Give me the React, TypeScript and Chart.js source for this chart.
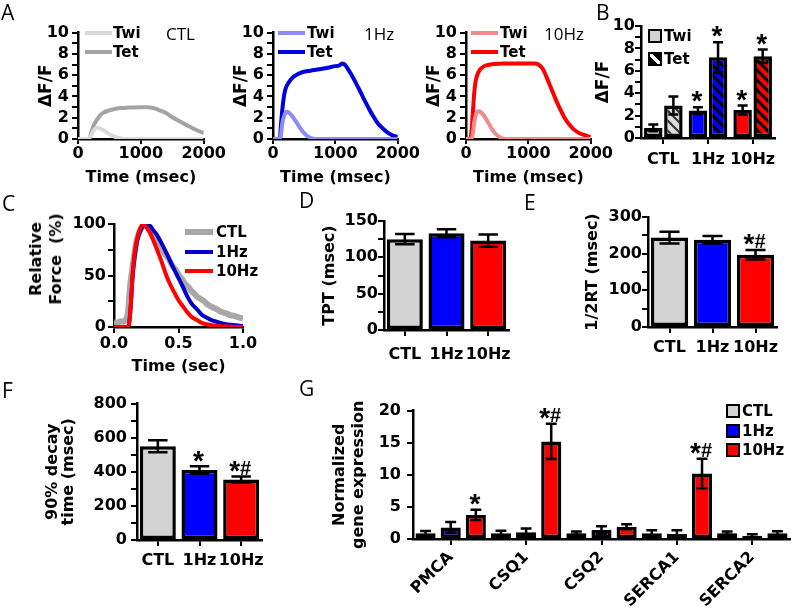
import React, { useEffect, useRef } from 'react';
import { Chart, registerables } from 'chart.js';

Chart.register(...registerables);

const FONT = "'DejaVu Sans', Verdana, sans-serif";
const MARK_FONT = "'Liberation Sans', Arial, Helvetica, sans-serif";
const LETTER_FONT = "'Open Sans', 'Liberation Sans', sans-serif";
const TICK_SIZE = 16;
const TITLE_SIZE = 16;

// ---------------- DATA ----------------
// Panel A: Ca transients, time (msec) vs ΔF/F
const aCtlTwi = [[0,0],[150,0],[200,0.25],[250,0.8],[300,1.05],[350,1.0],[400,0.85],[450,0.65],[500,0.45],[550,0.3],[600,0.17],[650,0.08],[700,0.03],[800,0],[1200,0],[2000,0]];
const aCtlTet = [[0,0],[180,0],[210,0.6],[250,1.3],[300,1.8],[350,2.2],[400,2.45],[500,2.7],[600,2.85],[700,2.92],[800,2.95],[1000,2.98],[1100,2.98],[1200,2.92],[1300,2.7],[1400,2.45],[1500,2.05],[1600,1.72],[1700,1.4],[1800,1.08],[1900,0.8],[2000,0.55]];
const a1HzTwi = [[0,0],[110,0],[130,0.5],[150,1.5],[180,2.2],[220,2.55],[260,2.45],[300,2.2],[350,1.8],[400,1.35],[450,0.9],[500,0.55],[550,0.28],[600,0.1],[650,0.03],[700,0],[2000,0]];
const a1HzTet = [[0,0],[110,0],[130,1.5],[150,2.8],[175,4.0],[200,4.7],[250,5.3],[320,5.8],[400,6.1],[480,6.3],[600,6.42],[740,6.55],[880,6.7],[1000,6.85],[1060,6.9],[1110,7.1],[1150,7.0],[1210,6.5],[1290,5.7],[1370,4.8],[1450,3.85],[1530,2.95],[1600,2.2],[1690,1.4],[1770,0.95],[1850,0.55],[1930,0.3],[2000,0.2]];
const a10HzTwi = [[0,0],[90,0],[110,0.5],[130,1.5],[160,2.3],[200,2.6],[240,2.5],[280,2.25],[330,1.8],[380,1.3],[430,0.8],[480,0.45],[530,0.2],[580,0.05],[630,0],[2000,0]];
const a10HzTet = [[0,0],[60,0],[90,0.8],[110,2.5],[130,4.2],[150,5.3],[180,6.0],[220,6.5],[280,6.8],[350,6.95],[450,7.05],[600,7.1],[800,7.1],[1000,7.1],[1100,7.1],[1160,7.0],[1230,6.6],[1300,5.7],[1370,4.7],[1440,3.7],[1510,2.8],[1580,2.0],[1650,1.4],[1720,0.95],[1800,0.6],[1880,0.4],[1960,0.25],[2000,0.2]];

// Panel B: peak ΔF/F
const bGroups = ['CTL', '1Hz', '10Hz'];
const bTwi = [0.9, 2.45, 2.5];
const bTwiErr = [0.3, 0.3, 0.4];
const bTwiMarks = ['', '*', '*'];
const bTet = [2.9, 7.2, 7.3];
const bTetErr = [0.8, 1.35, 0.6];
const bTetMarks = ['', '*', '*'];

// Panel C: relative force, time (sec) vs %
const cCtl = [[0,5],[0.025,4],[0.05,5.5],[0.075,5],[0.09,7],[0.1,9],[0.11,16],[0.125,40],[0.15,64],[0.175,84],[0.2,93],[0.225,98],[0.24,100],[0.26,97],[0.28,94],[0.3,89],[0.325,85],[0.35,79],[0.375,75],[0.4,70],[0.425,66],[0.45,60],[0.475,56],[0.5,51],[0.525,47],[0.55,42],[0.575,39],[0.6,35],[0.625,32],[0.65,29],[0.675,27],[0.7,25],[0.725,22],[0.75,20],[0.775,18.5],[0.8,17],[0.825,15],[0.85,14],[0.875,13],[0.9,11.5],[0.925,11],[0.95,10],[0.975,9],[1.0,8.5]];
const c1Hz = [[0,0],[0.1,0],[0.115,2],[0.13,20],[0.145,50],[0.162,70],[0.18,84],[0.2,92],[0.225,98],[0.253,100],[0.28,98],[0.31,93],[0.33,90],[0.37,81],[0.41,71],[0.45,60],[0.49,50],[0.53,40],[0.567,30],[0.6,23],[0.645,17],[0.68,12],[0.72,9],[0.76,6.5],[0.8,5],[0.86,3],[0.92,2],[1.0,1]];
const c10Hz = [[0,0],[0.1,0],[0.115,2],[0.13,22],[0.145,52],[0.16,72],[0.18,86],[0.2,95],[0.227,100],[0.25,97],[0.28,91],[0.305,84],[0.34,73],[0.37,63],[0.4,52],[0.433,42],[0.47,33],[0.5,26],[0.535,20],[0.567,14.5],[0.6,10],[0.645,6.5],[0.68,4],[0.72,2.6],[0.8,1],[0.9,0.3],[1.0,0]];

// Panels D, E, F
const groups = ['CTL', '1Hz', '10Hz'];
const dTpt = [125, 133, 123];
const dTptErr = [7, 5.5, 8.5];
const eHalfRt = [244, 238, 197];
const eHalfRtErr = [16, 10, 13];
const eMarks = ['', '', '*#'];
const fDecay = [550, 410, 355];
const fDecayErr = [35, 22, 18];
const fMarks = ['', '*', '*#'];

// Panel G: normalized gene expression
const gGenes = ['PMCA', 'CSQ1', 'CSQ2', 'SERCA1', 'SERCA2'];
const gCtl = [0.9, 0.9, 0.9, 0.9, 0.9];
const gCtlErr = [0.35, 0.4, 0.25, 0.45, 0.25];
const g1Hz = [1.8, 1.05, 1.4, 0.8, 0.5];
const g1HzErr = [0.85, 0.6, 0.6, 0.55, 0.25];
const g10Hz = [3.75, 15.2, 1.9, 10.2, 0.9];
const g10HzErr = [0.8, 2.75, 0.4, 2.3, 0.3];
const g10HzMarks = ['*', '*#', '', '*#', ''];

// ---------------- STYLE ----------------
const GRAY = '#d3d3d3';
const BLUE = '#0000ff';
const RED = '#ff0000';
const BAR_BORDER = 3.5;

const toXY = (arr: number[][]) => arr.map(([x, y]) => ({ x, y }));
const isMultiple = (v: number, m: number) => Math.abs(v / m - Math.round(v / m)) < 1e-6;

function baseOptions(padding: any) {
  return {
    responsive: false,
    maintainAspectRatio: false,
    animation: false,
    events: [],
    layout: { padding },
    plugins: { legend: { display: false }, tooltip: { enabled: false }, title: { display: false } },
  };
}

function yScale(o: any) {
  return {
    type: 'linear',
    position: 'left',
    min: 0,
    max: o.max,
    afterFit: (s: any) => { s.width = o.width; },
    border: { display: true, color: '#000', width: 2.5 },
    grid: { drawOnChartArea: false, drawTicks: true, tickLength: 6, color: '#000', lineWidth: 2 },
    ticks: {
      stepSize: o.step,
      maxTicksLimit: 100,
      autoSkip: false,
      padding: o.tickPad,
      color: '#000',
      font: { family: FONT, size: TICK_SIZE, weight: 'bold' },
      callback: (v: number) => (isMultiple(v, o.every) ? String(v) : ''),
    },
    title: o.title
      ? {
          display: true,
          text: o.title,
          color: '#000',
          font: { family: FONT, size: o.titleSize ?? TITLE_SIZE, weight: 'bold', lineHeight: o.titleLH ?? 1.2 },
          padding: { top: o.titlePad ?? 0, bottom: 0 },
        }
      : { display: false },
  };
}

function xLinear(o: any) {
  return {
    type: 'linear',
    position: 'bottom',
    min: o.min,
    max: o.max,
    afterFit: (s: any) => { s.height = o.height; },
    border: { display: true, color: '#000', width: 2.5 },
    grid: { drawOnChartArea: false, drawTicks: true, tickLength: o.tickLength ?? 6, color: '#000', lineWidth: 2 },
    ticks: {
      stepSize: o.step,
      autoSkip: false,
      padding: o.tickPad,
      color: '#000',
      maxRotation: 0,
      font: { family: FONT, size: TICK_SIZE, weight: 'bold' },
      callback: o.fmt ? o.fmt : (v: number) => String(v),
    },
    title: {
      display: true,
      text: o.title,
      color: '#000',
      font: { family: FONT, size: TITLE_SIZE, weight: 'bold' },
      padding: { top: 0, bottom: o.titlePadBottom ?? 0 },
    },
  };
}

function xCategory(o: any) {
  return {
    type: 'category',
    position: 'bottom',
    afterFit: (s: any) => { s.height = o.height; },
    border: { display: true, color: '#000', width: 2.5 },
    grid: { offset: false, drawOnChartArea: false, drawTicks: true, tickLength: 6, color: '#000', lineWidth: 2 },
    ticks: {
      padding: o.tickPad,
      color: '#000',
      autoSkip: false,
      maxRotation: o.rotate ?? 0,
      minRotation: o.rotate ?? 0,
      font: { family: FONT, size: o.size ?? TICK_SIZE, weight: 'bold' },
    },
  };
}

function drawMark(ctx: CanvasRenderingContext2D, mark: string, cx: number, topPx: number) {
  const cy = topPx - 10;
  const parts = mark.split('').map((ch) => (ch === '*' ? { ch, size: 28, shift: 0.47 * 28 } : { ch, size: 20, shift: 0.36 * 20 + 1 }));
  const widths = parts.map((p) => {
    ctx.font = `bold ${p.size}px ${MARK_FONT}`;
    return ctx.measureText(p.ch).width;
  });
  const total = widths.reduce((a, b) => a + b, 0);
  let x = cx - total / 2 - 1;
  ctx.fillStyle = '#000';
  ctx.textAlign = 'left';
  ctx.textBaseline = 'alphabetic';
  parts.forEach((p, i) => {
    ctx.font = `bold ${p.size}px ${MARK_FONT}`;
    ctx.fillText(p.ch, x, cy + p.shift);
    x += widths[i];
  });
}

const errorBarPlugin = {
  id: 'errorBars',
  afterDatasetsDraw(chart: any) {
    const ctx = chart.ctx;
    const y = chart.scales.y;
    chart.data.datasets.forEach((ds: any, i: number) => {
      if (!ds.errors) return;
      const meta = chart.getDatasetMeta(i);
      meta.data.forEach((bar: any, j: number) => {
        const v = ds.data[j];
        const e = ds.errors[j];
        const top = y.getPixelForValue(v + e);
        const bot = y.getPixelForValue(Math.max(v - e, 0));
        const cap = bar.width * 0.27;
        ctx.save();
        ctx.strokeStyle = '#000';
        ctx.lineWidth = 2.5;
        ctx.beginPath();
        ctx.moveTo(bar.x, top);
        ctx.lineTo(bar.x, bot);
        ctx.moveTo(bar.x - cap, top);
        ctx.lineTo(bar.x + cap, top);
        ctx.moveTo(bar.x - cap, bot);
        ctx.lineTo(bar.x + cap, bot);
        ctx.stroke();
        const mark = ds.marks ? ds.marks[j] : '';
        if (mark) drawMark(ctx, mark, bar.x, top);
        ctx.restore();
      });
    });
  },
};

function makeHatch(base: string, stripe: string, lw: number) {
  const c = document.createElement('canvas');
  c.width = 10;
  c.height = 10;
  const g = c.getContext('2d')!;
  g.fillStyle = base;
  g.fillRect(0, 0, 10, 10);
  g.strokeStyle = stripe;
  g.lineWidth = lw;
  g.beginPath();
  g.moveTo(-2, -2); g.lineTo(12, 12);
  g.moveTo(-2, 8); g.lineTo(2, 12);
  g.moveTo(8, -2); g.lineTo(12, 2);
  g.stroke();
  return g.createPattern(c, 'repeat');
}

// ---------------- CHART CONFIGS ----------------
function makeA(twi: number[][], tet: number[][], twiColor: string, tetColor: string) {
  return {
    type: 'line',
    data: {
      datasets: [
        { data: toXY(twi), borderColor: twiColor, borderWidth: 4, pointRadius: 0, cubicInterpolationMode: 'monotone' },
        { data: toXY(tet), borderColor: tetColor, borderWidth: 4, pointRadius: 0, cubicInterpolationMode: 'monotone' },
      ],
    },
    options: {
      ...baseOptions({ top: 12, right: 20, left: 0, bottom: 0 }),
      scales: {
        x: xLinear({ min: 0, max: 2000, step: 1000, height: 50, tickPad: 0, tickLength: 5, title: 'Time (msec)', titlePadBottom: 1.5 }),
        y: yScale({ max: 10, step: 1, every: 2, width: 78, tickPad: 3, title: 'ΔF/F', titlePad: 36.5, titleSize: 17 }),
      },
    },
  };
}

function makeB() {
  return {
    type: 'bar',
    data: {
      labels: bGroups,
      datasets: [
        {
          data: bTwi, errors: bTwiErr, marks: bTwiMarks,
          backgroundColor: [GRAY, BLUE, RED], borderColor: '#000', borderWidth: BAR_BORDER, borderSkipped: false,
          categoryPercentage: 0.9, barPercentage: 0.92,
        },
        {
          data: bTet, errors: bTetErr, marks: bTetMarks,
          backgroundColor: [makeHatch('#dcdcdc', '#333', 2.2), makeHatch(BLUE, '#000', 3), makeHatch(RED, '#000', 3)],
          borderColor: '#000', borderWidth: BAR_BORDER, borderSkipped: false,
          categoryPercentage: 0.9, barPercentage: 0.92,
        },
      ],
    },
    options: {
      ...baseOptions({ top: 18, right: 10, left: 0, bottom: 0 }),
      scales: {
        x: xCategory({ height: 35, tickPad: 6 }),
        y: yScale({ max: 10, step: 1, every: 2, width: 66, tickPad: 0, title: 'ΔF/F', titlePad: 18.5, titleSize: 17 }),
      },
    },
    plugins: [errorBarPlugin],
  };
}

function makeC() {
  return {
    type: 'line',
    data: {
      datasets: [
        { data: toXY(c10Hz), borderColor: RED, borderWidth: 4, pointRadius: 0, cubicInterpolationMode: 'monotone' },
        { data: toXY(c1Hz), borderColor: '#0000c8', borderWidth: 4, pointRadius: 0, cubicInterpolationMode: 'monotone' },
        { data: toXY(cCtl), borderColor: '#a8a8a8', borderWidth: 6, pointRadius: 0, tension: 0.2 },
      ],
    },
    options: {
      ...baseOptions({ top: 19, right: 20, left: 0, bottom: 0 }),
      scales: {
        x: xLinear({ min: 0, max: 1, step: 0.5, height: 51, tickPad: 1, title: 'Time (sec)', titlePadBottom: 2, fmt: (v: number) => v.toFixed(1) }),
        y: yScale({ max: 100, step: 25, every: 50, width: 114, tickPad: 2 }),
      },
    },
  };
}

function makeSimpleBar(values: number[], errs: number[], marks: string[] | null, o: any) {
  return {
    type: 'bar',
    data: {
      labels: groups,
      datasets: [
        {
          data: values, errors: errs, marks,
          backgroundColor: [GRAY, BLUE, RED], borderColor: '#000', borderWidth: BAR_BORDER, borderSkipped: false,
          categoryPercentage: 0.9, barPercentage: 0.96,
        },
      ],
    },
    options: {
      ...baseOptions({ top: o.pt, right: o.pr, left: 0, bottom: 0 }),
      scales: {
        x: xCategory({ height: o.xH, tickPad: o.xPad }),
        y: yScale(o.y),
      },
    },
    plugins: [errorBarPlugin],
  };
}

function makeG() {
  const common = { borderColor: '#000', borderWidth: BAR_BORDER, borderSkipped: false, categoryPercentage: 1, barPercentage: 0.8 };
  return {
    type: 'bar',
    data: {
      labels: gGenes,
      datasets: [
        { data: gCtl, errors: gCtlErr, backgroundColor: GRAY, ...common },
        { data: g1Hz, errors: g1HzErr, backgroundColor: BLUE, ...common },
        { data: g10Hz, errors: g10HzErr, marks: g10HzMarks, backgroundColor: RED, ...common },
      ],
    },
    options: {
      ...baseOptions({ top: 14, right: 10, left: 0, bottom: 0 }),
      scales: {
        x: xCategory({ height: 69, tickPad: 3, rotate: 45, size: 16 }),
        y: yScale({ max: 20, step: 5, every: 5, width: 113, tickPad: 6, title: ['Normalized', 'gene expression'], titlePad: 30.8, titleLH: 1.15 }),
      },
    },
    plugins: [errorBarPlugin],
  };
}

// ---------------- COMPONENTS ----------------
function ChartBox({ left, top, width, height, make }: any) {
  const ref = useRef<HTMLCanvasElement>(null);
  useEffect(() => {
    const chart = new Chart(ref.current as any, make());
    return () => chart.destroy();
  }, []);
  return (
    <canvas
      ref={ref}
      width={width}
      height={height}
      style={{ position: 'absolute', left, top, width, height }}
    />
  );
}

function Txt({ x, y, size = 15, bold = true, family = FONT, children }: any) {
  return (
    <div
      style={{
        position: 'absolute', left: x, top: y - size * 0.6, fontSize: size, lineHeight: `${size * 1.2}px`,
        fontFamily: family, fontWeight: bold ? 700 : 400, whiteSpace: 'nowrap', color: '#000',
      }}
    >
      {children}
    </div>
  );
}

function LineSwatch({ x, y, w = 27, t = 4, color }: any) {
  return <div style={{ position: 'absolute', left: x, top: y - t / 2, width: w, height: t, background: color }} />;
}

function BoxSwatch({ x, y, s = 14, bg }: any) {
  return (
    <div
      style={{
        position: 'absolute', left: x, top: y - s / 2, width: s, height: s, boxSizing: 'border-box',
        border: '2.5px solid #000', background: bg,
      }}
    />
  );
}

function Letter({ x, y, children }: any) {
  return <Txt x={x} y={y} size={21} bold={false} family={LETTER_FONT}>{children}</Txt>;
}

export default function App() {
  return (
    <div style={{ position: 'absolute', left: 0, top: 0, width: 800, height: 608, background: '#fff', overflow: 'hidden' }}>
      {/* Panel A */}
      <ChartBox left={0} top={20} width={226} height={169} make={() => makeA(aCtlTwi, aCtlTet, '#d9d9d9', '#a3a3a3')} />
      <ChartBox left={195} top={20} width={225} height={169} make={() => makeA(a1HzTwi, a1HzTet, '#8c8cf2', '#0000e0')} />
      <ChartBox left={388} top={20} width={225} height={169} make={() => makeA(a10HzTwi, a10HzTet, '#f28c8c', RED)} />
      {/* Panel B */}
      <ChartBox left={575} top={8} width={210} height={165} make={makeB} />
      {/* Panel C */}
      <ChartBox left={0} top={205} width={263} height={173} make={makeC} />
      {/* Panel D */}
      <ChartBox left={300} top={205} width={221} height={160}
        make={() => makeSimpleBar(dTpt, dTptErr, null, { pt: 16, pr: 8, xH: 35, xPad: 9,
          y: { max: 150, step: 25, every: 50, width: 84, tickPad: 0, title: 'TPT (msec)', titlePad: 20.4 } })} />
      {/* Panel E */}
      <ChartBox left={560} top={200} width={227} height={160}
        make={() => makeSimpleBar(eHalfRt, eHalfRtErr, eMarks, { pt: 17, pr: 10, xH: 33, xPad: 5.5,
          y: { max: 300, step: 50, every: 100, width: 88, tickPad: 0, title: '1/2RT (msec)', titlePad: 23.4 } })} />
      {/* Panel F */}
      <ChartBox left={0} top={390} width={277} height={190}
        make={() => makeSimpleBar(fDecay, fDecayErr, fMarks, { pt: 13, pr: 15, xH: 40, xPad: 5,
          y: { max: 800, step: 100, every: 200, width: 137, tickPad: 4, title: ['90% decay', 'time (msec)'], titlePad: 44, titleLH: 1.05 } })} />
      {/* Panel G */}
      <ChartBox left={300} top={395} width={500} height={213} make={makeG} />

      {/* Panel letters */}
      <Letter x={1} y={12.5}>A</Letter>
      <Letter x={596} y={12.5}>B</Letter>
      <Letter x={2} y={204}>C</Letter>
      <Letter x={299} y={200.5}>D</Letter>
      <Letter x={524} y={202.5}>E</Letter>
      <Letter x={2} y={390.5}>F</Letter>
      <Letter x={299} y={389}>G</Letter>

      {/* Panel A legends and conditions */}
      <LineSwatch x={85} y={33} color="#d9d9d9" />
      <Txt x={113} y={33}>Twi</Txt>
      <LineSwatch x={85} y={52} color="#a3a3a3" />
      <Txt x={113} y={52}>Tet</Txt>
      <Txt x={166} y={34} size={17} bold={false} family={LETTER_FONT}>CTL</Txt>

      <LineSwatch x={278} y={33} color="#8c8cf2" />
      <Txt x={307} y={33}>Twi</Txt>
      <LineSwatch x={278} y={52} color="#0000e0" />
      <Txt x={307} y={52}>Tet</Txt>
      <Txt x={364} y={34} size={17} bold={false} family={LETTER_FONT}>1Hz</Txt>

      <LineSwatch x={471} y={33} color="#f28c8c" />
      <Txt x={500} y={33}>Twi</Txt>
      <LineSwatch x={471} y={52} color={RED} />
      <Txt x={500} y={52}>Tet</Txt>
      <Txt x={544} y={34} size={17} bold={false} family={LETTER_FONT}>10Hz</Txt>

      {/* Panel B legend */}
      <BoxSwatch x={648} y={35.5} bg={GRAY} />
      <Txt x={664} y={35.5}>Twi</Txt>
      <BoxSwatch x={648} y={58.5} bg="linear-gradient(45deg, #000 38%, #fff 38%, #fff 62%, #000 62%)" />
      <Txt x={664} y={58.5}>Tet</Txt>

      {/* Panel C y title and legend */}
      <div
        style={{
          position: 'absolute', left: 46, top: 259, transform: 'translate(-50%, -50%) rotate(-90deg)',
          fontFamily: FONT, fontWeight: 700, fontSize: 16, lineHeight: '20px', textAlign: 'center', whiteSpace: 'nowrap', color: '#000',
        }}
      >
        <div>Relative</div>
        <div>Force&nbsp;&nbsp;(%)</div>
      </div>
      <LineSwatch x={185} y={232} w={28} t={6} color="#a8a8a8" />
      <Txt x={216} y={232}>CTL</Txt>
      <LineSwatch x={185} y={252} w={28} t={4} color="#0000c8" />
      <Txt x={216} y={252}>1Hz</Txt>
      <LineSwatch x={185} y={271} w={28} t={4} color={RED} />
      <Txt x={216} y={271}>10Hz</Txt>

      {/* Panel G legend */}
      <BoxSwatch x={726} y={411} bg={GRAY} />
      <Txt x={742} y={411}>CTL</Txt>
      <BoxSwatch x={726} y={430.5} bg={BLUE} />
      <Txt x={742} y={430.5}>1Hz</Txt>
      <BoxSwatch x={726} y={450} bg={RED} />
      <Txt x={742} y={450}>10Hz</Txt>
    </div>
  );
}
